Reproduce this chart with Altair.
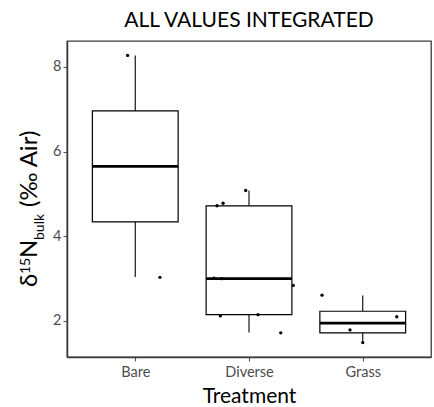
import altair as alt
import pandas as pd

# ---- data ----
categories = ["Bare", "Diverse", "Grass"]
whisker_low = [3.04, 1.73, 1.49]
q1 = [4.34, 2.15, 1.72]
median = [5.65, 3.00, 1.95]
q3 = [6.96, 4.72, 2.23]
whisker_high = [8.27, 5.08, 2.60]

point_treatment = ["Bare", "Bare",
                   "Diverse", "Diverse", "Diverse", "Diverse", "Diverse",
                   "Diverse", "Diverse", "Diverse", "Diverse",
                   "Grass", "Grass", "Grass", "Grass"]
point_value = [8.27, 3.03,
               4.72, 4.78, 5.08, 3.01, 3.00, 2.12, 2.15, 2.84, 1.72,
               2.61, 2.10, 1.79, 1.49]
point_jitter = [-0.067, 0.217,
                -0.281, -0.228, -0.029, -0.308, -0.240, -0.252, 0.079, 0.389, 0.279,
                -0.358, 0.299, -0.112, 0.0]

y_ticks = [2, 4, 6, 8]

FONT = "Lato"
HALF = 0.377

box_df = pd.DataFrame({
    "treatment": categories,
    "pos": [categories.index(c) + 1 for c in categories],
    "lo": whisker_low, "q1": q1, "med": median, "q3": q3, "hi": whisker_high,
})
pts_df = pd.DataFrame({
    "treatment": point_treatment,
    "value": point_value,
    "jitter": point_jitter,
})
pts_df["pos"] = [categories.index(t) + 1 + j for t, j in zip(point_treatment, point_jitter)]

label_expr = "[" + ",".join("'%s'" % c for c in categories) + "][datum.value - 1]"

x_scale = alt.Scale(domain=[0.4, 3.6], nice=False, zero=False)
y_scale = alt.Scale(domain=[1.15, 8.61], nice=False, zero=False)
x_axis = alt.Axis(values=[1, 2, 3], labelExpr=label_expr, title="Treatment", grid=False,
                  tickSize=4, labelPadding=15, labelBaseline="alphabetic",
                  titleY=45, titleBaseline="alphabetic")
y_axis = alt.Axis(values=y_ticks, title=None, grid=False, tickSize=4, labelPadding=2)

base_box = alt.Chart(box_df).transform_calculate(
    xl="datum.pos - %f" % HALF, xr="datum.pos + %f" % HALF
)

upper_whisker = base_box.mark_rule(color="black", strokeWidth=1.1).encode(
    x=alt.X("pos:Q", scale=x_scale, axis=x_axis),
    y=alt.Y("q3:Q", scale=y_scale, axis=y_axis),
    y2="hi:Q",
)
lower_whisker = base_box.mark_rule(color="black", strokeWidth=1.1).encode(
    x=alt.X("pos:Q", scale=x_scale, axis=x_axis),
    y=alt.Y("lo:Q", scale=y_scale, axis=y_axis),
    y2="q1:Q",
)
boxes = base_box.mark_rect(fill="white", stroke="black", strokeWidth=1.2).encode(
    x=alt.X("xl:Q", scale=x_scale, axis=x_axis),
    x2="xr:Q",
    y=alt.Y("q1:Q", scale=y_scale, axis=y_axis),
    y2="q3:Q",
)
medians = base_box.mark_rule(color="black", strokeWidth=2.6).encode(
    x=alt.X("xl:Q", scale=x_scale, axis=x_axis),
    x2="xr:Q",
    y=alt.Y("med:Q", scale=y_scale, axis=y_axis),
)
points = alt.Chart(pts_df).mark_circle(color="black", size=11, opacity=1).encode(
    x=alt.X("pos:Q", scale=x_scale, axis=x_axis),
    y=alt.Y("value:Q", scale=y_scale, axis=y_axis),
)

dummy = pd.DataFrame({"a": [0]})


def piece(txt, x, y, size, angle=270, align="left"):
    return alt.Chart(dummy).mark_text(
        text=txt, angle=angle, align=align, baseline="alphabetic",
        font=FONT, fontSize=size, color="black"
    ).encode(x=alt.value(x), y=alt.value(y))


# y-axis title with superscript and subscript, built from text pieces
ytitle = [
    piece("δ", -30, 246, 24),
    piece("15", -37, 233, 14),
    piece("N", -30, 217, 24),
    piece("bulk", -23, 199, 14),
    piece("(‰ Air)", -30, 166, 24),
]

title = piece("ALL VALUES INTEGRATED", 182, -14, 21, angle=0, align="center")

chart = alt.layer(
    upper_whisker, lower_whisker, boxes, medians, points, title, *ytitle
).properties(
    width=364, height=316,
    autosize=alt.AutoSizeParams(type="none"),
    padding={"left": 67, "top": 41, "right": 3, "bottom": 50},
).configure(
    background="white"
).configure_view(
    stroke="#3a3a3a", strokeWidth=1.3
).configure_axis(
    labelFont=FONT, labelFontSize=14.5, labelColor="#4d4d4d",
    titleFont=FONT, titleFontSize=21, titleFontWeight="normal", titleColor="black",
    domainColor="#3a3a3a", domainWidth=1.5, tickColor="#555555", tickWidth=1.1,
)

chart.save("out.html", embed_options={"renderer": "svg", "actions": False})
